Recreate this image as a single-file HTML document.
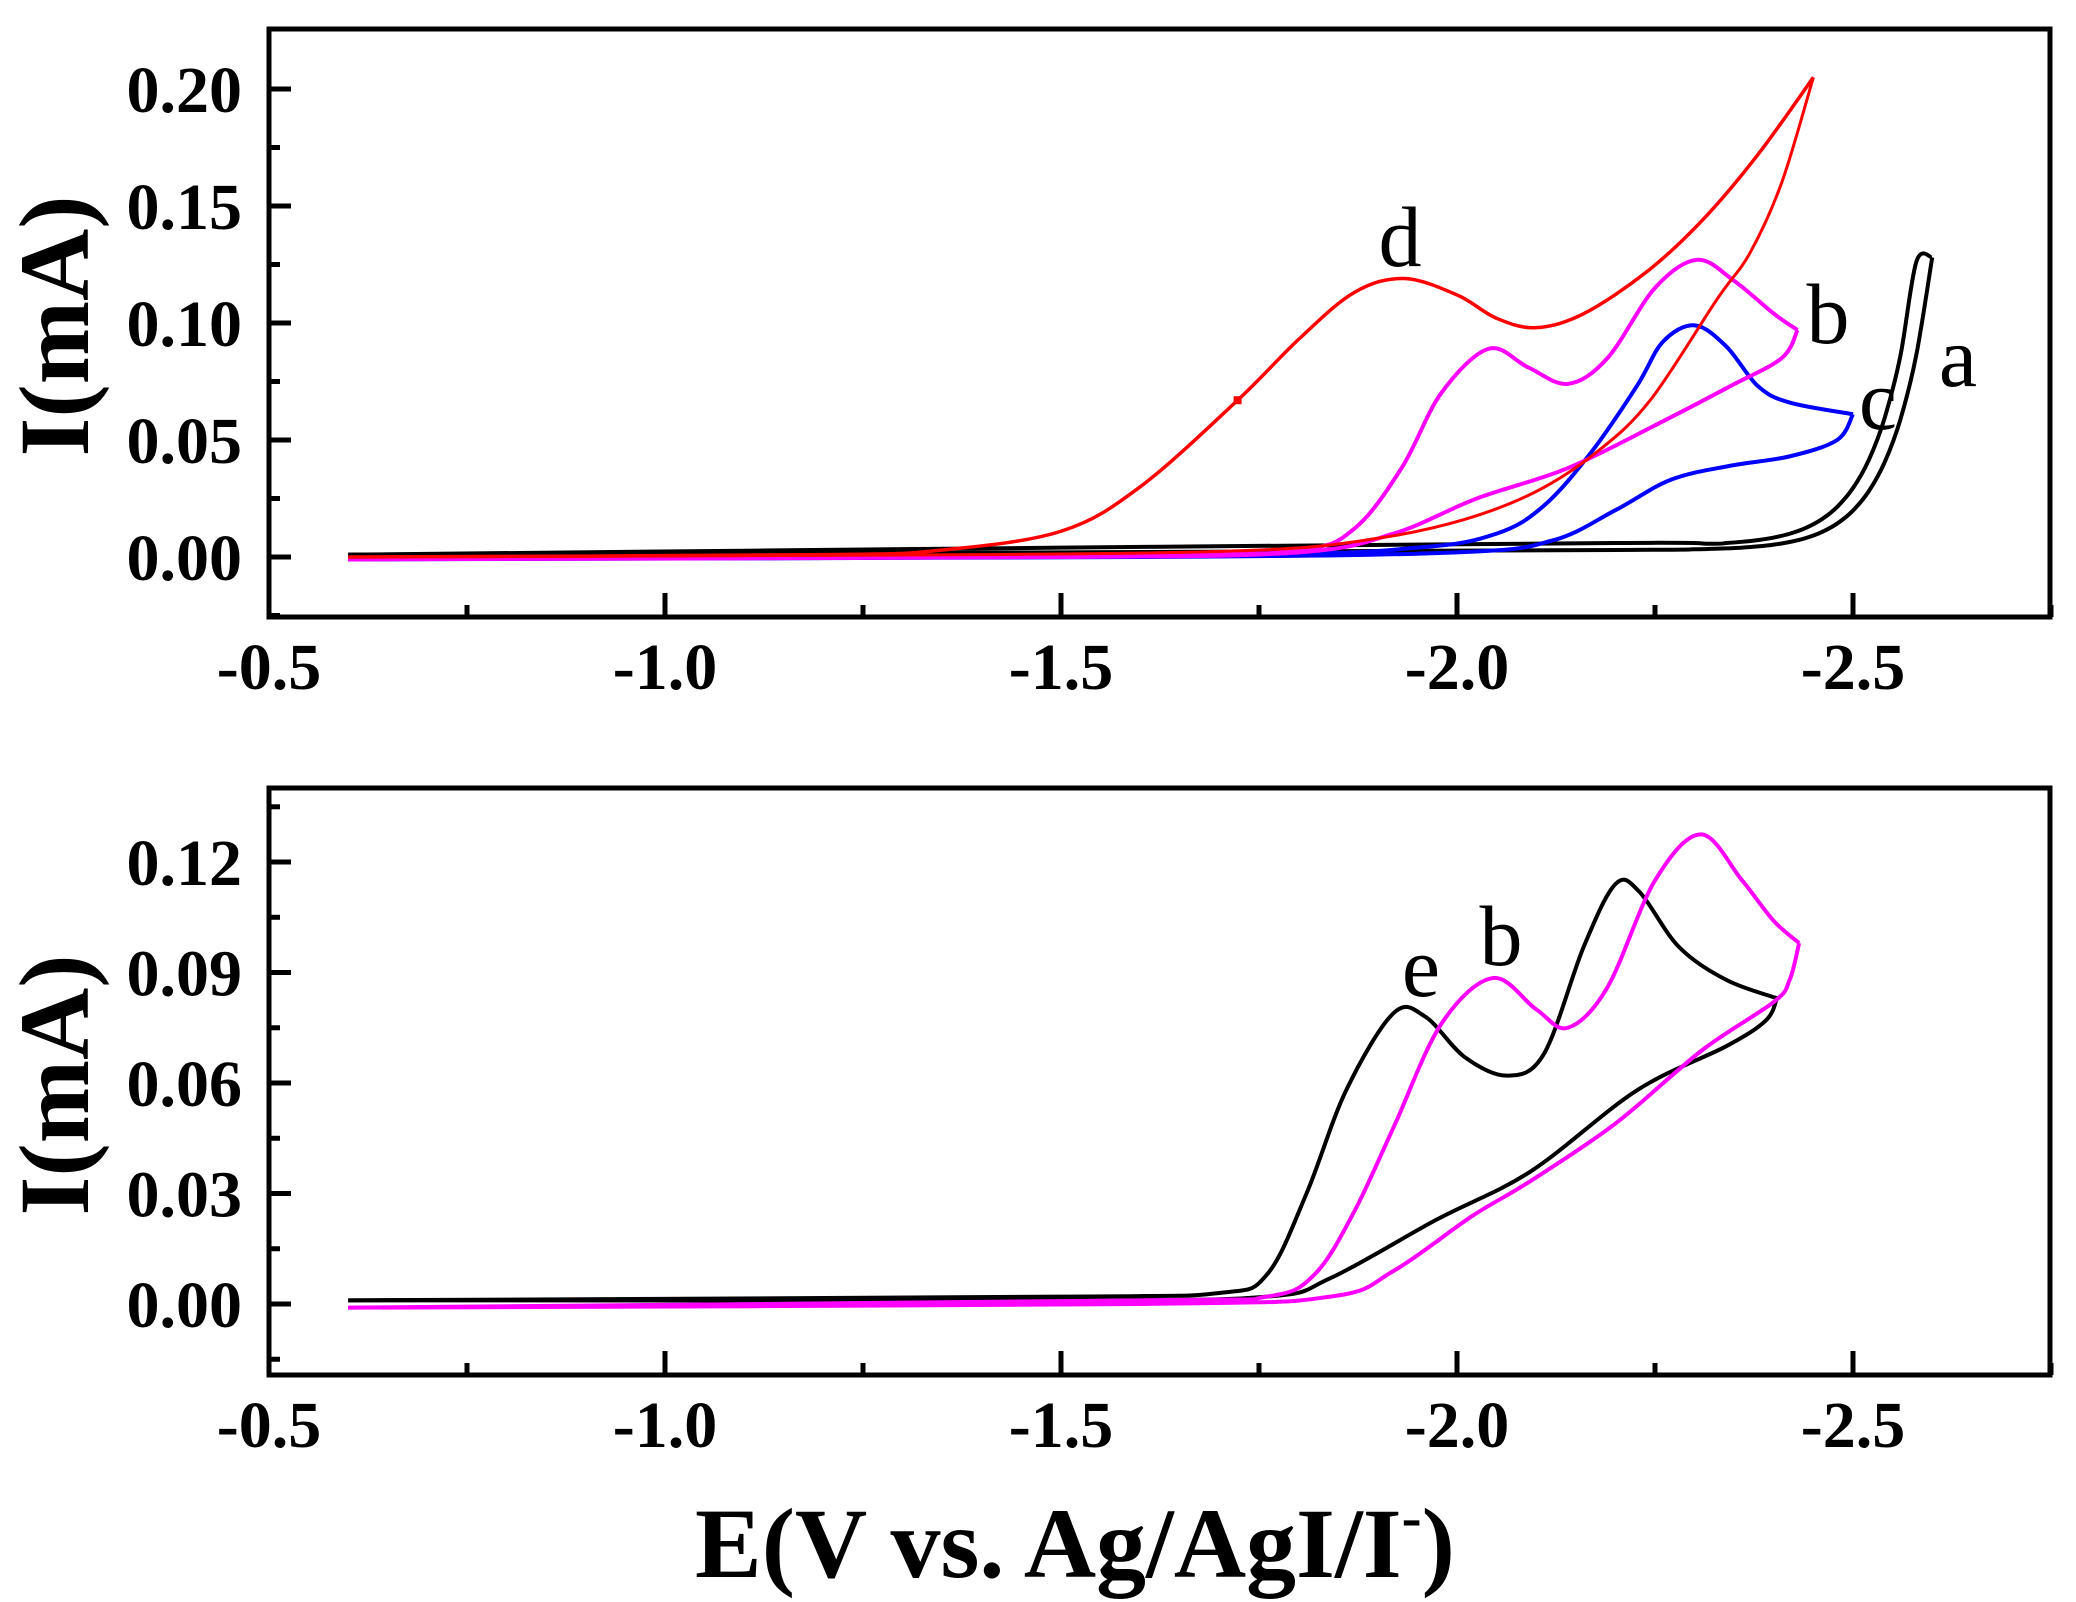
<!DOCTYPE html>
<html><head><meta charset="utf-8"><style>
html,body{margin:0;padding:0;background:#fff;}
svg{display:block;}
text{font-family:"Liberation Serif","DejaVu Serif",serif;}
.t{font-weight:bold;font-size:66px;}
.l{font-size:86px;}
</style></head><body>
<svg id="s" width="2076" height="1602" viewBox="0 0 2076 1602" xmlns="http://www.w3.org/2000/svg">
<g id="g"></g>
<text x="1075" y="1577" text-anchor="middle" font-weight="bold" font-size="100">E(V vs. Ag/AgI/I<tspan font-size="60" dy="-40">-</tspan><tspan dy="40">)</tspan></text>
<text transform="translate(88,326) rotate(-90)" text-anchor="middle" font-weight="bold" font-size="100">I(mA)</text>
<text transform="translate(88,1085) rotate(-90)" text-anchor="middle" font-weight="bold" font-size="100">I(mA)</text>
<text class="l" x="1400" y="266" text-anchor="middle">d</text>
<text class="l" x="1828" y="343" text-anchor="middle">b</text>
<text class="l" x="1958" y="386" text-anchor="middle">a</text>
<text class="l" x="1878" y="429" text-anchor="middle">c</text>
<text class="l" x="1421" y="996" text-anchor="middle">e</text>
<text class="l" x="1501" y="965" text-anchor="middle">b</text>
</svg>
<script>
var NS="http://www.w3.org/2000/svg",g=document.getElementById("g");
function X(E){return 269+(-E-0.5)*792;}
function add(tag,a,txt){var e=document.createElementNS(NS,tag);for(var k in a)e.setAttribute(k,a[k]);if(txt!=null)e.textContent=txt;g.appendChild(e);return e;}
function path(pts,Y){var p=pts.map(function(q){return [X(q[0]),Y(q[1])];});
 var d="M"+p[0][0]+","+p[0][1];
 for(var i=0;i<p.length-1;i++){var p0=p[i-1]||p[i],p1=p[i],p2=p[i+1],p3=p[i+2]||p2;
  d+="C"+(p1[0]+(p2[0]-p0[0])/6)+","+(p1[1]+(p2[1]-p0[1])/6)+" "+(p2[0]-(p3[0]-p1[0])/6)+","+(p2[1]-(p3[1]-p1[1])/6)+" "+p2[0]+","+p2[1];}
 return d;}
function curve(pts,Y,c,w){add("path",{d:path(pts,Y),fill:"none",stroke:c,"stroke-width":w,"stroke-linejoin":"round"});}
function frame(top,bot,Y,maj,minStep,lo,hi,labs){
 add("rect",{x:269,y:top,width:1781,height:bot-top,fill:"none",stroke:"#000","stroke-width":5});
 for(var v=lo;v<=hi+1e-9;v+=minStep){var y=Y(v);var isMaj=Math.abs(v/maj-Math.round(v/maj))<1e-6;
  add("line",{x1:269,x2:269+(isMaj?22:11),y1:y,y2:y,stroke:"#000","stroke-width":5});}
 labs.forEach(function(L){add("text",{x:242,y:Y(L[0])+23,"text-anchor":"end","class":"t"},L[1]);});
 for(var E=-0.5;E>=-2.75;E-=0.25){var x=X(E);var isMaj=Math.abs(E*2-Math.round(E*2))<1e-6;
  add("line",{x1:x,x2:x,y1:bot,y2:bot-(isMaj?24:12),stroke:"#000","stroke-width":5});}
 [[-0.5,"-0.5"],[-1,"-1.0"],[-1.5,"-1.5"],[-2,"-2.0"],[-2.5,"-2.5"]].forEach(function(L){
  add("text",{x:X(L[0]),y:bot+72,"text-anchor":"middle","class":"t"},L[1]);});
}
var Yt=function(I){return 557-I*2340;}, Yb=function(I){return 1304-I*3683;};
frame(29,617,Yt,0.05,0.025,-0.025,0.2,[[0,"0.00"],[0.05,"0.05"],[0.1,"0.10"],[0.15,"0.15"],[0.2,"0.20"]]);
frame(788,1375,Yb,0.03,0.015,-0.015,0.135,[[0,"0.00"],[0.03,"0.03"],[0.06,"0.06"],[0.09,"0.09"],[0.12,"0.12"]]);
(function(){
 var f=[[-0.6,0.001],[-1.5,0.002],[-2.2,0.003]],r=[[-2.6,0.128]];
 for(var E=-2.3;E>=-2.5801;E-=0.02){f.push([E,0.003+0.0062*Math.exp((-E-2.45)/0.05)]);}
 f.push([-2.6,0.128]);
 for(var E2=-2.58;E2<=-2.3001;E2+=0.02){r.push([E2,0.005+0.009*Math.exp((-E2-2.45)/0.05)]);}
 r.push([-2.2,0.006],[-1.5,0.004],[-0.6,0.001]);
 curve(f,Yt,"#000",4);curve(r,Yt,"#000",4);
})();
curve([[-0.6,-0.001],[-1.7,0.001],[-1.95,0.004],[-2.05,0.01],[-2.11,0.022],[-2.17,0.045],[-2.227,0.073],[-2.26,0.092],[-2.3,0.099],[-2.34,0.09],[-2.38,0.073],[-2.42,0.066],[-2.5,0.061]],Yt,"#00f",4);
curve([[-2.5,0.061],[-2.48,0.05],[-2.42,0.043],[-2.345,0.039],[-2.27,0.033],[-2.2,0.02],[-2.12,0.007],[-2.0,0.002],[-1.6,0.0],[-0.6,-0.001]],Yt,"#00f",4);
curve([[-0.6,-0.001],[-1.6,0.001],[-1.8,0.003],[-1.87,0.012],[-1.93,0.038],[-1.98,0.07],[-2.04,0.089],[-2.09,0.081],[-2.14,0.074],[-2.19,0.085],[-2.25,0.115],[-2.303,0.127],[-2.35,0.118],[-2.4,0.104],[-2.43,0.097]],Yt,"#f0f",4);
curve([[-2.43,0.097],[-2.41,0.085],[-2.345,0.073],[-2.26,0.058],[-2.14,0.038],[-2.025,0.025],[-1.92,0.01],[-1.8,0.002],[-1.5,0.0],[-0.6,-0.001]],Yt,"#f0f",4);
curve([[-0.6,0.0],[-1.2,0.001],[-1.35,0.003],[-1.5,0.011],[-1.6,0.03],[-1.723,0.067],[-1.8,0.093],[-1.87,0.113],[-1.933,0.119],[-2.0,0.112],[-2.05,0.102],[-2.1,0.098],[-2.16,0.104],[-2.24,0.122],[-2.31,0.144],[-2.38,0.172],[-2.45,0.205]],Yt,"#f00",3.5);
curve([[-2.45,0.205],[-2.41,0.16],[-2.37,0.13],[-2.328,0.11],[-2.244,0.067],[-2.177,0.045],[-2.1,0.028],[-2.009,0.016],[-1.9,0.008],[-1.75,0.003],[-1.4,0.001],[-0.6,0.0]],Yt,"#f00",3);
add("rect",{x:X(-1.723)-4,y:Yt(0.067)-4,width:8,height:8,fill:"#f00"});
curve([[-0.6,0.001],[-1.5,0.002],[-1.7,0.003],[-1.76,0.008],[-1.81,0.03],[-1.86,0.058],[-1.92,0.079],[-1.96,0.078],[-2.01,0.067],[-2.064,0.062],[-2.11,0.068],[-2.16,0.097],[-2.2,0.114],[-2.23,0.112],[-2.28,0.097],[-2.34,0.088],[-2.404,0.083]],Yb,"#000",4);
curve([[-2.404,0.083],[-2.39,0.077],[-2.34,0.07],[-2.227,0.058],[-2.093,0.036],[-1.975,0.023],[-1.84,0.007],[-1.76,0.002],[-1.5,0.001],[-0.6,0.001]],Yb,"#000",4);
curve([[-0.6,-0.001],[-1.6,0.001],[-1.76,0.002],[-1.82,0.008],[-1.87,0.025],[-1.92,0.048],[-1.98,0.076],[-2.045,0.0885],[-2.1,0.08],[-2.14,0.075],[-2.19,0.086],[-2.25,0.115],[-2.308,0.1275],[-2.36,0.115],[-2.4,0.104],[-2.432,0.098]],Yb,"#f0f",4);
curve([[-2.432,0.098],[-2.42,0.088],[-2.4,0.082],[-2.31,0.069],[-2.2,0.049],[-2.09,0.033],[-2.02,0.024],[-1.92,0.009],[-1.84,0.002],[-1.6,0.0],[-0.6,-0.001]],Yb,"#f0f",4);
</script>
</body></html>
